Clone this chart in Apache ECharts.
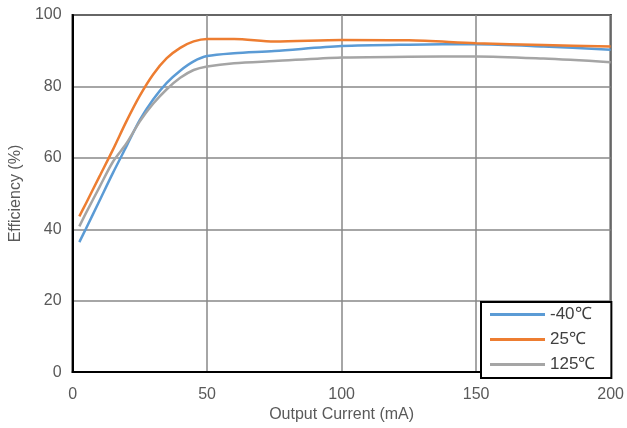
<!DOCTYPE html>
<html>
<head>
<meta charset="utf-8">
<script src="https://cdn.jsdelivr.net/npm/echarts@6/dist/echarts.min.js"></script>
<style>
    html, body { margin: 0; padding: 0; background: #fff; }
    #effChart { width: 627px; height: 428px; }
</style>
</head>
<body>
<div id="effChart"></div>
<script>
    // output current (mA)
    var current = [2.5, 5, 10, 15, 20, 25, 30, 35, 40, 45, 50, 60, 75, 100, 125, 150, 175, 200];
    var effM40 = [36.4, 40.2, 48, 55.8, 63.2, 70.6, 76.4, 81, 84.4, 87, 88.5, 89.3, 89.9, 91.3, 91.7, 91.8, 91.2, 90.3];
    var eff25 = [43.6, 47.3, 54.8, 62.3, 70.2, 77.4, 83.4, 87.9, 90.8, 92.6, 93.3, 93.3, 92.6, 93, 92.9, 92.1, 91.6, 91.2];
    var eff125 = [40.8, 44.6, 51.8, 58.9, 64, 70.2, 75.2, 79.2, 82.4, 84.6, 85.6, 86.5, 87.1, 88.1, 88.3, 88.4, 87.8, 86.8];
    var seriesNames = ['-40℃', '25℃', '125℃'];

    function pairs(ys) {
        return current.map(function (x, i) { return [x, ys[i]]; });
    }

    var myChart = echarts.init(document.getElementById('effChart'));
    var labelFont = { color: '#595959', fontSize: 16, fontFamily: 'Liberation Sans, Arial, sans-serif' };

    myChart.setOption({
        animation: false,
        color: ['#5B9BD5', '#ED7D31', '#A5A5A5'],
        grid: {
            left: 72,
            right: 15,
            top: 15,
            bottom: 53,
            show: true,
            borderColor: '#000',
            borderWidth: 2
        },
        legend: {
            orient: 'vertical',
            left: 481,
            top: 302,
            data: seriesNames,
            icon: 'rect',
            itemWidth: 55,
            itemHeight: 3,
            itemGap: 8,
            padding: [4, 16, 5, 9],
            backgroundColor: '#fff',
            borderColor: '#000',
            borderWidth: 2,
            borderRadius: 0,
            textStyle: { color: '#404040', fontSize: 17, fontFamily: 'Liberation Sans, Arial, sans-serif' }
        },
        xAxis: {
            type: 'value',
            min: 0,
            max: 200,
            interval: 50,
            name: 'Output Current (mA)',
            nameLocation: 'middle',
            nameGap: 29,
            nameTextStyle: labelFont,
            axisLine: { lineStyle: { color: '#000', width: 2 } },
            axisTick: { show: false },
            axisLabel: Object.assign({ margin: 14 }, labelFont),
            splitLine: { lineStyle: { color: '#898989', width: 1.5 } }
        },
        yAxis: {
            type: 'value',
            min: 0,
            max: 100,
            interval: 20,
            name: 'Efficiency (%)',
            nameLocation: 'middle',
            nameGap: 42,
            nameTextStyle: labelFont,
            axisLine: { show: true, lineStyle: { color: '#000', width: 2 } },
            axisTick: { show: false },
            axisLabel: Object.assign({ margin: 11 }, labelFont),
            splitLine: { lineStyle: { color: '#898989', width: 1.5 } }
        },
        series: [
            {
                name: seriesNames[0],
                type: 'line',
                smooth: 0.3,
                symbol: 'none',
                lineStyle: { width: 2.5 },
                data: pairs(effM40)
            },
            {
                name: seriesNames[1],
                type: 'line',
                smooth: 0.3,
                symbol: 'none',
                lineStyle: { width: 2.5 },
                data: pairs(eff25)
            },
            {
                name: seriesNames[2],
                type: 'line',
                smooth: 0.3,
                symbol: 'none',
                lineStyle: { width: 2.5 },
                data: pairs(eff125)
            }
        ]
    });
</script>
</body>
</html>
